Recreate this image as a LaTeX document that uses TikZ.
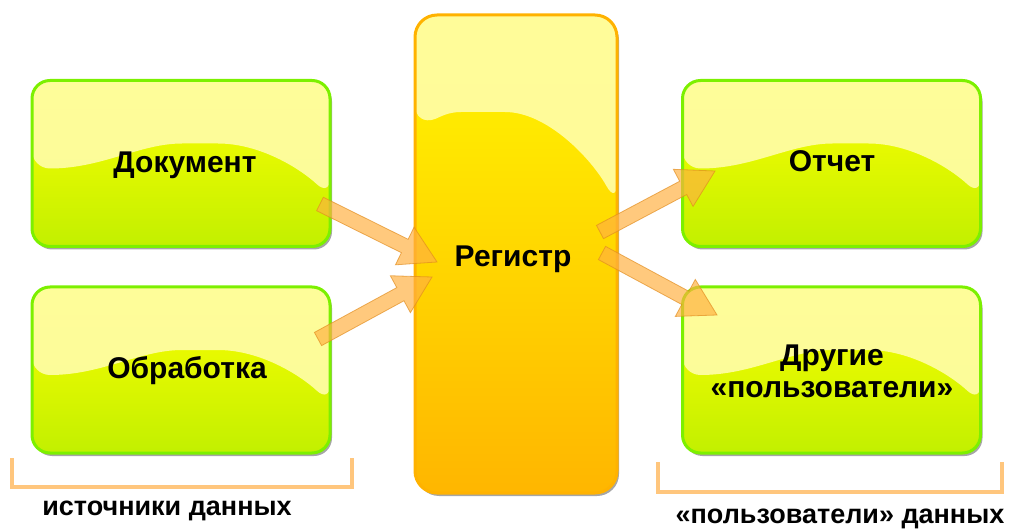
\documentclass[tikz,border=0pt]{standalone}
\usepackage{fontspec}
\setmainfont{Liberation Sans}
\usetikzlibrary{shadows,calc}

\definecolor{greenedge}{RGB}{124,240,0}
\definecolor{greentop}{RGB}{255,255,0}
\definecolor{greenmid}{RGB}{238,255,0}
\definecolor{greenbot}{RGB}{194,240,0}
\definecolor{regedge}{RGB}{255,178,0}
\definecolor{regtop}{RGB}{255,248,0}
\definecolor{regbot}{RGB}{255,182,0}
\definecolor{gloss}{RGB}{255,253,165}
\definecolor{arrowfill}{RGB}{255,176,64}
\definecolor{arrowedge}{RGB}{225,140,30}
\definecolor{bracketcol}{RGB}{255,198,125}

\tikzset{
  card/.style={draw=greenedge, line width=3pt, rounded corners=18pt,
    minimum width=298pt, minimum height=166pt, inner sep=0pt,
    top color=greentop, middle color=greenmid, bottom color=greenbot,
    drop shadow={shadow xshift=2pt, shadow yshift=-3pt, opacity=0.35, fill=black},
    path picture={
      \fill[gloss, opacity=0.93]
        (path picture bounding box.north west)
        -- ([yshift=-88pt]path picture bounding box.north west)
        .. controls +(70pt,0pt) and +(-60pt,0pt) ..
        ([xshift=168pt,yshift=-63pt]path picture bounding box.north west)
        .. controls +(60pt,0pt) and +(-30pt,28pt) ..
        ([yshift=-116pt]path picture bounding box.north east)
        -- (path picture bounding box.north east) -- cycle;
    }},
  register/.style={draw=regedge, line width=3pt, rounded corners=22pt,
    minimum width=202pt, minimum height=478pt, inner sep=0pt,
    top color=regtop, bottom color=regbot,
    drop shadow={shadow xshift=2pt, shadow yshift=-3pt, opacity=0.35, fill=black},
    path picture={
      \fill[gloss, opacity=0.93]
        (path picture bounding box.north west)
        -- ([yshift=-112pt]path picture bounding box.north west)
        .. controls +(25pt,10pt) and +(-35pt,0pt) ..
        ([xshift=68pt,yshift=-97pt]path picture bounding box.north west)
        .. controls +(65pt,0pt) and +(-25pt,45pt) ..
        ([yshift=-190pt]path picture bounding box.north east)
        -- (path picture bounding box.north east) -- cycle;
    }},
  label/.style={font=\bfseries\fontsize{30}{32}\selectfont, anchor=base, inner sep=0pt},
  caption/.style={font=\bfseries\fontsize{27}{30}\selectfont, anchor=base, inner sep=0pt},
  flow/.style={fill=arrowfill, draw=arrowedge, line width=0.8pt,
    line join=miter, opacity=0.68},
  bracket/.style={draw=bracketcol, line width=4pt}
}

% broad flat arrow from #1 (tail) to #2 (tip)
\newcommand\flowarrow[2]{%
  \coordinate (#1-base) at ($(#2)!36pt!(#1)$);
  \path[flow]
    ($(#1)!7.5pt!90:(#2)$) -- ($(#1-base)!7.5pt!90:(#2)$)
    -- ($(#1-base)!21pt!90:(#2)$) -- (#2)
    -- ($(#1-base)!21pt!-90:(#2)$) -- ($(#1-base)!7.5pt!-90:(#2)$)
    -- ($(#1)!7.5pt!-90:(#2)$) -- cycle;
}

\begin{document}
\begin{tikzpicture}[x=1pt,y=1pt]
  \useasboundingbox (0,0) rectangle (1009,528);

  % source boxes
  \node[card] (doc)  at (181,364.5) {};
  \node[card] (proc) at (181,158) {};
  % central register
  \node[register] (reg) at (516,274) {};
  % consumer boxes
  \node[card] (rep)   at (831.5,364.5) {};
  \node[card] (other) at (831.5,158) {};

  % box captions
  \node[label] (tdoc)    at (185,355) {Документ};
  \node[label] (tproc)   at (187,150) {Обработка};
  \node[label] (treg)    at (513,261) {Регистр};
  \node[label] (trep)    at (832,356) {Отчет};
  \node[label] (tother1) at (832,163) {Другие};
  \node[label] (tother2) at (832,131) {«пользователи»};

  % flow arrows
  \coordinate (f1s) at (320,324);
  \coordinate (f1e) at (437,266);
  \coordinate (f2s) at (318,189);
  \coordinate (f2e) at (432,251);
  \coordinate (f3s) at (600,296);
  \coordinate (f3e) at (715,357);
  \coordinate (f4s) at (602,275);
  \coordinate (f4e) at (717,213);
  \flowarrow{f1s}{f1e}
  \flowarrow{f2s}{f2e}
  \flowarrow{f3s}{f3e}
  \flowarrow{f4s}{f4e}

  % group brackets
  \coordinate (b1a) at (12,70);
  \coordinate (b1b) at (352,70);
  \coordinate (b2a) at (658,66);
  \coordinate (b2b) at (1002,66);
  \draw[bracket] (b1a) -- ++(0,-29) -| (b1b);
  \draw[bracket] (b2a) -- ++(0,-30) -| (b2b);

  \node[caption] (csrc) at (167,13) {источники данных};
  \node[caption] (cuse) at (840,5) {«пользователи» данных};
\end{tikzpicture}
\end{document}
